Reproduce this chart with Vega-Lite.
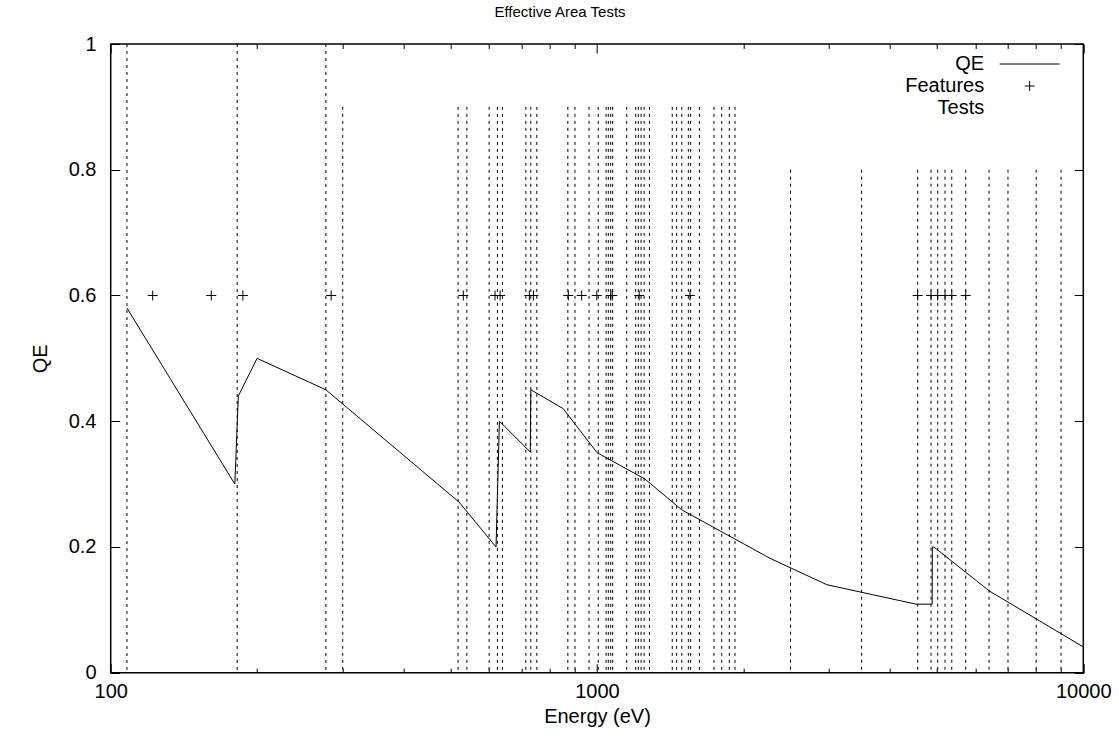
{
  "$schema": "https://vega.github.io/schema/vega-lite/v6.json",
  "width": 972.6,
  "height": 628.7,
  "autosize": "none",
  "padding": {"left": 110.7, "top": 44, "right": 35.7, "bottom": 69.3},
  "background": "white",
  "config": {
    "font": "Liberation Sans",
    "view": {"stroke": "black", "strokeWidth": 1.5},
    "axis": {"domain": false, "grid": false, "tickColor": "black", "tickWidth": 1, "labelColor": "black", "titleColor": "black", "labelFont": "Liberation Sans", "titleFont": "Liberation Sans", "labelFontSize": 20, "titleFontSize": 20, "titleFontWeight": "normal", "labelFlush": false}
  },
  "title": {"text": "Effective Area Tests", "font": "Liberation Sans", "fontSize": 15, "fontWeight": "normal", "color": "black", "anchor": "middle", "baseline": "alphabetic", "offset": 2.5, "dx": -37},
  "datasets": {
    "tests": [
      {"E": 108, "top": 1.0}, {"E": 182, "top": 1.0}, {"E": 277, "top": 1.0},
      {"E": 300, "top": 0.9}, {"E": 518, "top": 0.9}, {"E": 540, "top": 0.9}, {"E": 600, "top": 0.9}, {"E": 624, "top": 0.9}, {"E": 639, "top": 0.9},
      {"E": 714, "top": 0.9}, {"E": 731, "top": 0.9}, {"E": 752, "top": 0.9}, {"E": 871, "top": 0.9}, {"E": 901, "top": 0.9}, {"E": 963, "top": 0.9},
      {"E": 1006, "top": 0.9}, {"E": 1044, "top": 0.9}, {"E": 1055, "top": 0.9}, {"E": 1067, "top": 0.9}, {"E": 1077, "top": 0.9}, {"E": 1151, "top": 0.9},
      {"E": 1201, "top": 0.9}, {"E": 1216, "top": 0.9}, {"E": 1232, "top": 0.9}, {"E": 1250, "top": 0.9}, {"E": 1282, "top": 0.9}, {"E": 1428, "top": 0.9},
      {"E": 1458, "top": 0.9}, {"E": 1494, "top": 0.9}, {"E": 1541, "top": 0.9}, {"E": 1558, "top": 0.9}, {"E": 1624, "top": 0.9}, {"E": 1740, "top": 0.9},
      {"E": 1805, "top": 0.9}, {"E": 1871, "top": 0.9}, {"E": 1922, "top": 0.9},
      {"E": 2500, "top": 0.8}, {"E": 3500, "top": 0.8}, {"E": 4565, "top": 0.8}, {"E": 4863, "top": 0.8}, {"E": 5019, "top": 0.8}, {"E": 5196, "top": 0.8},
      {"E": 5364, "top": 0.8}, {"E": 5731, "top": 0.8}, {"E": 6400, "top": 0.8}, {"E": 7000, "top": 0.8}, {"E": 8000, "top": 0.8}, {"E": 9000, "top": 0.8}
    ],
    "qe": [
      {"E": 108, "QE": 0.58}, {"E": 180, "QE": 0.30}, {"E": 183, "QE": 0.44}, {"E": 200, "QE": 0.50}, {"E": 277, "QE": 0.45},
      {"E": 521, "QE": 0.271}, {"E": 620, "QE": 0.20}, {"E": 630, "QE": 0.40}, {"E": 729, "QE": 0.351}, {"E": 731, "QE": 0.45},
      {"E": 852, "QE": 0.42}, {"E": 1000, "QE": 0.35}, {"E": 1255, "QE": 0.308}, {"E": 1494, "QE": 0.259}, {"E": 2268, "QE": 0.182},
      {"E": 2968, "QE": 0.14}, {"E": 4530, "QE": 0.109}, {"E": 4889, "QE": 0.109}, {"E": 4893, "QE": 0.20}, {"E": 4930, "QE": 0.20},
      {"E": 6408, "QE": 0.13}, {"E": 10000, "QE": 0.041}
    ],
    "features": [
      {"E": 122, "QE": 0.6, "series": "Features"}, {"E": 161, "QE": 0.6, "series": "Features"}, {"E": 187, "QE": 0.6, "series": "Features"},
      {"E": 284, "QE": 0.6, "series": "Features"}, {"E": 531, "QE": 0.6, "series": "Features"}, {"E": 617, "QE": 0.6, "series": "Features"},
      {"E": 632, "QE": 0.6, "series": "Features"}, {"E": 726, "QE": 0.6, "series": "Features"}, {"E": 740, "QE": 0.6, "series": "Features"},
      {"E": 873, "QE": 0.6, "series": "Features"}, {"E": 930, "QE": 0.6, "series": "Features"}, {"E": 999, "QE": 0.6, "series": "Features"},
      {"E": 1067, "QE": 0.6, "series": "Features"}, {"E": 1075, "QE": 0.6, "series": "Features"}, {"E": 1221, "QE": 0.6, "series": "Features"},
      {"E": 1553, "QE": 0.6, "series": "Features"}, {"E": 4565, "QE": 0.6, "series": "Features"}, {"E": 4863, "QE": 0.6, "series": "Features"},
      {"E": 5019, "QE": 0.6, "series": "Features"}, {"E": 5196, "QE": 0.6, "series": "Features"}, {"E": 5364, "QE": 0.6, "series": "Features"},
      {"E": 5731, "QE": 0.6, "series": "Features"}
    ]
  },
  "resolve": {"axis": {"x": "independent", "y": "independent"}},
  "layer": [
    {
      "data": {"name": "tests"},
      "mark": {"type": "rule", "color": "black", "strokeWidth": 1, "strokeDash": [3, 4]},
      "encoding": {
        "x": {"field": "E", "type": "quantitative",
          "scale": {"type": "log", "domain": [100, 10000], "nice": false},
          "axis": {"orient": "top", "labels": false, "title": null,
            "values": [100, 200, 300, 400, 500, 600, 700, 800, 900, 1000, 2000, 3000, 4000, 5000, 6000, 7000, 8000, 9000, 10000],
            "tickSize": {"condition": {"test": "datum.value==100||datum.value==1000||datum.value==10000", "value": -9}, "value": -4.5}}},
        "y": {"field": "top", "type": "quantitative",
          "scale": {"domain": [0, 1], "nice": false, "zero": true},
          "axis": {"orient": "right", "labels": false, "title": null, "values": [0, 0.2, 0.4, 0.6, 0.8, 1], "tickSize": -9}},
        "y2": {"datum": 0}
      }
    },
    {
      "data": {"name": "qe"},
      "mark": {"type": "line", "color": "black", "strokeWidth": 1},
      "encoding": {
        "x": {"field": "E", "type": "quantitative",
          "axis": {"orient": "bottom", "title": "Energy (eV)", "format": "d", "labelOverlap": false, "labelFlush": false,
            "values": [100, 200, 300, 400, 500, 600, 700, 800, 900, 1000, 2000, 3000, 4000, 5000, 6000, 7000, 8000, 9000, 10000],
            "labelExpr": "datum.value==100||datum.value==1000||datum.value==10000 ? datum.label : ''",
            "tickSize": {"condition": {"test": "datum.value==100||datum.value==1000||datum.value==10000", "value": -9}, "value": -4.5},
            "labelPadding": 18, "titlePadding": 0}},
        "y": {"field": "QE", "type": "quantitative",
          "axis": {"orient": "left", "title": "QE", "format": "~g", "values": [0, 0.2, 0.4, 0.6, 0.8, 1], "tickSize": -9, "labelPadding": 23.7, "titlePadding": 18}}
      }
    },
    {
      "data": {"name": "features"},
      "mark": {"type": "point", "filled": false, "color": "black", "strokeWidth": 1, "size": 100, "opacity": 1},
      "encoding": {
        "x": {"field": "E", "type": "quantitative", "axis": null},
        "y": {"field": "QE", "type": "quantitative", "axis": null},
        "shape": {"field": "series", "type": "nominal",
          "scale": {"domain": ["QE", "Features", "Tests"], "range": ["M-6,0L6,0", "M-1,0L1,0M0,-1L0,1", "M0,0"]},
          "legend": {"orient": "none", "legendX": 909, "legendY": 10, "title": null, "labelFontSize": 20, "labelFont": "Liberation Sans", "labelColor": "black",
            "labelAlign": "right", "labelOffset": -55.5, "symbolSize": 100, "symbolStrokeWidth": 1, "symbolStrokeColor": "black", "padding": 0, "rowPadding": 2}}
      }
    }
  ]
}
